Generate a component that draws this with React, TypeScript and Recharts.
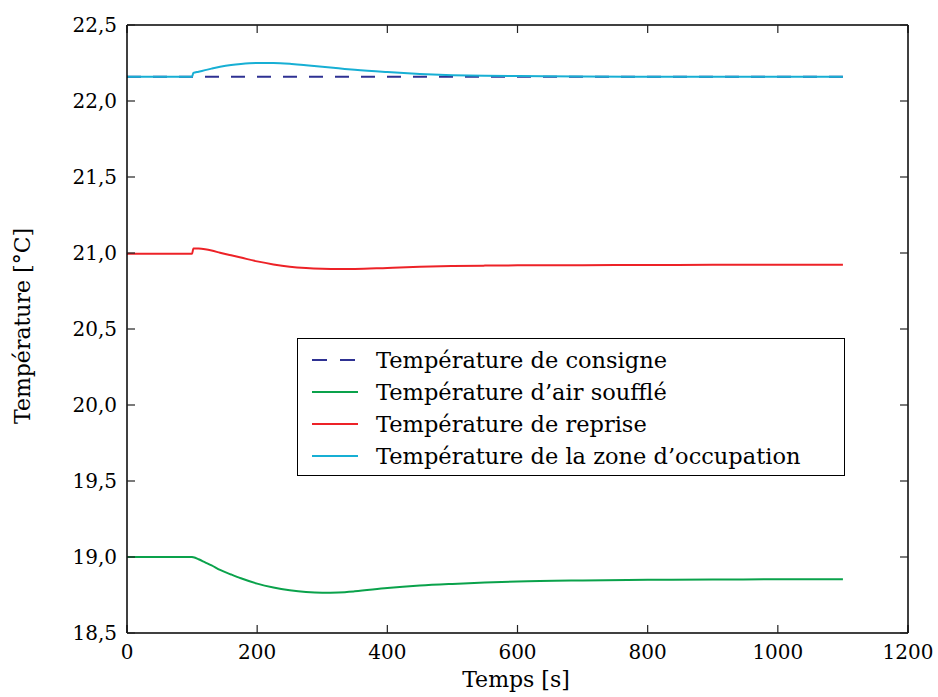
import React from 'react';
import { LineChart, Line, XAxis, YAxis, Legend, ReferenceLine } from 'recharts';

const temps = [0, 100, 102, 110, 120, 130, 143, 160, 175, 200, 225, 250, 275, 300, 325, 350, 400, 450, 500, 550, 600, 700, 800, 900, 1000, 1100];
const consigne = [22.16, 22.16, 22.16, 22.16, 22.16, 22.16, 22.16, 22.16, 22.16, 22.16, 22.16, 22.16, 22.16, 22.16, 22.16, 22.16, 22.16, 22.16, 22.16, 22.16, 22.16, 22.16, 22.16, 22.16, 22.16, 22.16];
const airSouffle = [19.0, 19.0, 18.998, 18.985, 18.965, 18.945, 18.915, 18.885, 18.86, 18.825, 18.8, 18.782, 18.77, 18.765, 18.767, 18.774, 18.796, 18.812, 18.823, 18.832, 18.839, 18.846, 18.85, 18.852, 18.853, 18.853];
const reprise = [20.995, 20.995, 21.03, 21.029, 21.024, 21.016, 21.002, 20.985, 20.97, 20.945, 20.925, 20.91, 20.901, 20.896, 20.894, 20.895, 20.902, 20.909, 20.914, 20.917, 20.919, 20.92, 20.921, 20.922, 20.922, 20.922];
const zone = [22.16, 22.16, 22.185, 22.193, 22.203, 22.213, 22.225, 22.237, 22.244, 22.25, 22.25, 22.245, 22.235, 22.225, 22.215, 22.205, 22.19, 22.178, 22.17, 22.166, 22.164, 22.162, 22.16, 22.16, 22.16, 22.16];

const xTicks = [0, 200, 400, 600, 800, 1000, 1200];
const yTicks = [18.5, 19.0, 19.5, 20.0, 20.5, 21.0, 21.5, 22.0, 22.5];

const series = [
  { key: 'consigne', name: 'Température de consigne', color: '#2e3192', dash: '14 12' },
  { key: 'airSouffle', name: 'Température d’air soufflé', color: '#0aa24b', dash: undefined },
  { key: 'reprise', name: 'Température de reprise', color: '#ed2227', dash: undefined },
  { key: 'zone', name: 'Température de la zone d’occupation', color: '#17afd4', dash: undefined },
];

const data = temps.map((t, i) => ({
  t,
  consigne: consigne[i],
  airSouffle: airSouffle[i],
  reprise: reprise[i],
  zone: zone[i],
}));

const FONT = '"DejaVu Serif", serif';
const TICK_LEN = 8;
const PLOT_TOP = 25;
const PLOT_H = 608;
const Y_MIN = 18.5;
const Y_MAX = 22.5;
const tickLenY = (TICK_LEN * (Y_MAX - Y_MIN)) / PLOT_H;
const fmt = (v: number) => v.toFixed(1).replace('.', ',');
const tickStyle = { fontFamily: FONT, fontSize: 20, fill: '#000' };
const tickLineStyle = { stroke: '#222', strokeWidth: 1.2 };

function RightTick(props: any) {
  const { x, y } = props;
  return <line x1={x} x2={x - TICK_LEN} y1={y} y2={y} stroke="#222" strokeWidth={1.2} />;
}

function LegendBox() {
  return (
    <div
      style={{
        width: 548,
        height: 138,
        boxSizing: 'border-box',
        border: '1.5px solid #000',
        background: '#fff',
        paddingTop: 5,
        fontFamily: FONT,
        fontSize: 22.5,
        color: '#000',
      }}
    >
      {series.map((s) => (
        <div key={s.key} style={{ display: 'flex', alignItems: 'center', height: 32 }}>
          <svg width={78} height={32} style={{ flex: 'none' }}>
            <line x1={14} x2={60} y1={16} y2={16} stroke={s.color} strokeWidth={2} strokeDasharray={s.dash ? '15 13' : undefined} />
          </svg>
          <span style={{ whiteSpace: 'nowrap', lineHeight: '32px' }}>{s.name}</span>
        </div>
      ))}
    </div>
  );
}

export default function App() {
  return (
    <div style={{ position: 'absolute', left: 0, top: 0, width: 938, height: 697, background: '#fff' }}>
      <LineChart width={938} height={697} data={data} margin={{ top: PLOT_TOP, right: 0, bottom: 0, left: 0 }}>
        <XAxis
          xAxisId="b"
          dataKey="t"
          type="number"
          domain={[0, 1200]}
          ticks={xTicks}
          interval={0}
          allowDataOverflow
          height={64}
          tick={tickStyle}
          tickSize={TICK_LEN}
          tickMargin={4}
          tickLine={{ ...tickLineStyle, transform: `translate(0,-${TICK_LEN})` }}
          stroke="#000"
          strokeWidth={1.5}
          label={{
            content: () => (
              <text x={516} y={687} textAnchor="middle" fontFamily={FONT} fontSize={22} fill="#000">
                Temps [s]
              </text>
            ),
          }}
        />
        <YAxis
          yAxisId="l"
          type="number"
          domain={[Y_MIN, Y_MAX]}
          ticks={yTicks}
          interval={0}
          allowDataOverflow
          width={127}
          tick={tickStyle}
          tickFormatter={fmt}
          tickSize={TICK_LEN}
          tickMargin={2}
          tickLine={{ ...tickLineStyle, transform: `translate(${TICK_LEN},0)` }}
          stroke="#000"
          strokeWidth={1.5}
          label={{
            content: () => (
              <text x={30} y={326} transform="rotate(-90 30 326)" textAnchor="middle" fontFamily={FONT} fontSize={22} fill="#000">
                Température [°C]
              </text>
            ),
          }}
        />
        <YAxis
          yAxisId="r"
          orientation="right"
          type="number"
          domain={[Y_MIN, Y_MAX]}
          ticks={yTicks}
          interval={0}
          allowDataOverflow
          width={30}
          tick={<RightTick />}
          tickLine={false}
          tickSize={0}
          tickMargin={0}
          stroke="#000"
          strokeWidth={1.5}
        />
        <ReferenceLine xAxisId="b" yAxisId="l" y={Y_MAX} stroke="#000" strokeWidth={1.5} />
        {xTicks.map((v) => (
          <ReferenceLine
            key={`top-${v}`}
            xAxisId="b"
            yAxisId="l"
            segment={[{ x: v, y: Y_MAX }, { x: v, y: Y_MAX - tickLenY }]}
            stroke="#222"
            strokeWidth={1.2}
          />
        ))}
        {series.map((s) => (
          <Line
            key={s.key}
            xAxisId="b"
            yAxisId="l"
            type="monotone"
            dataKey={s.key}
            name={s.name}
            stroke={s.color}
            strokeWidth={2}
            strokeDasharray={s.dash}
            dot={false}
            activeDot={false}
            isAnimationActive={false}
          />
        ))}
        <Legend
          layout="vertical"
          align="center"
          verticalAlign="middle"
          content={() => <LegendBox />}
          wrapperStyle={{ left: 297, top: 338, width: 548, height: 138 }}
        />
      </LineChart>
    </div>
  );
}
